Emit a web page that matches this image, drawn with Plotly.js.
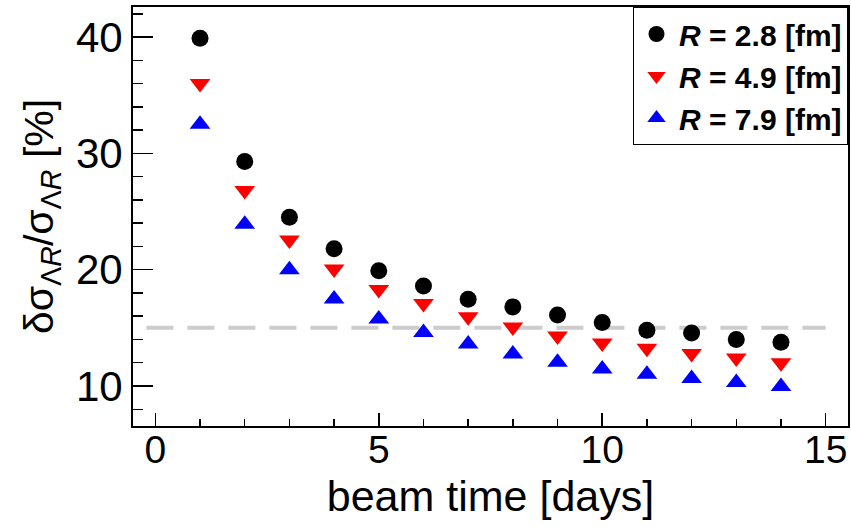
<!DOCTYPE html>
<html>
<head>
<meta charset="utf-8">
<script src="https://cdn.plot.ly/plotly-3.0.1.min.js"></script>
<style>
  html, body { margin: 0; padding: 0; background: #fff; }
  #chart { width: 851px; height: 527px; }
</style>
</head>
<body>
<div id="chart"></div>
<script>
// Data
const days = [1, 2, 3, 4, 5, 6, 7, 8, 9, 10, 11, 12, 13, 14];
const r28 = [39.9, 29.3, 24.5, 21.8, 19.9, 18.6, 17.45, 16.8, 16.1, 15.45, 14.8, 14.55, 14.0, 13.75];
const r49 = [36.0, 26.8, 22.55, 20.05, 18.3, 17.1, 15.95, 15.07, 14.3, 13.7, 13.25, 12.8, 12.4, 12.0];
const r79 = [32.5, 23.9, 20.0, 17.47, 15.75, 14.6, 13.6, 12.75, 12.05, 11.45, 11.0, 10.65, 10.3, 9.95];
const seriesNames = ["<b><i>R</i> = 2.8 [fm]</b>", "<b><i>R</i> = 4.9 [fm]</b>", "<b><i>R</i> = 7.9 [fm]</b>"];
const thresholdLevel = 15;
const thresholdFrom = -0.2;
const thresholdTo = 15;

const fontFam = "Liberation Sans, Arial, Helvetica, sans-serif";

const traces = [
  { x: days, y: r28, name: seriesNames[0], mode: "markers", type: "scatter",
    marker: { symbol: "circle", size: 17, color: "#000000" } },
  { x: days, y: r49, name: seriesNames[1], mode: "markers", type: "scatter",
    marker: { symbol: "triangle-down", size: 18, color: "#ff0000" } },
  { x: days, y: r79, name: seriesNames[2], mode: "markers", type: "scatter",
    marker: { symbol: "triangle-up", size: 18, color: "#0000ff" } }
];

const layout = {
  width: 851, height: 527,
  margin: { l: 133, r: 3, t: 7, b: 101 },
  paper_bgcolor: "#ffffff", plot_bgcolor: "#ffffff",
  font: { family: fontFam, color: "#000000" },
  showlegend: true,
  legend: {
    x: 1, xanchor: "right", y: 1, yanchor: "top",
    bgcolor: "#ffffff", bordercolor: "#000000", borderwidth: 1,
    font: { family: fontFam, size: 30, color: "#000000" },
    traceorder: "normal",
    itemwidth: 35
  },
  xaxis: {
    range: [-0.5, 15.5],
    tick0: 0, dtick: 5,
    ticks: "inside", ticklen: 13, tickwidth: 1.5, tickcolor: "#000000",
    minor: { dtick: 1, ticks: "inside", ticklen: 7, tickwidth: 1.5, tickcolor: "#000000" },
    showgrid: false, zeroline: false,
    showline: true, linecolor: "#000000", linewidth: 2, mirror: true,
    ticklabelstandoff: -12,
    tickfont: { family: fontFam, size: 39, color: "#000000" },
    title: { text: "beam time [days]", font: { family: fontFam, size: 43, color: "#000000" }, standoff: 11 }
  },
  yaxis: {
    range: [6.56, 42.58],
    tick0: 0, dtick: 10,
    ticks: "inside", ticklen: 20, tickwidth: 1.5, tickcolor: "#000000",
    minor: { dtick: 2, ticks: "inside", ticklen: 10, tickwidth: 1.5, tickcolor: "#000000" },
    showgrid: false, zeroline: false,
    showline: true, linecolor: "#000000", linewidth: 2, mirror: true,
    tickfont: { family: fontFam, size: 42, color: "#000000" },
    title: { text: "δσ<sub>Λ<i>R</i></sub>/σ<sub>Λ<i>R</i></sub> [%]", font: { family: fontFam, size: 41, color: "#000000" }, standoff: 10 }
  },
  shapes: [{
    type: "line", xref: "x", yref: "y",
    x0: thresholdFrom, x1: thresholdTo, y0: thresholdLevel, y1: thresholdLevel,
    line: { color: "#cccccc", width: 4, dash: "27px,14px" },
    layer: "below"
  }]
};

Plotly.newPlot("chart", traces, layout, { staticPlot: true, displayModeBar: false });
</script>
</body>
</html>
